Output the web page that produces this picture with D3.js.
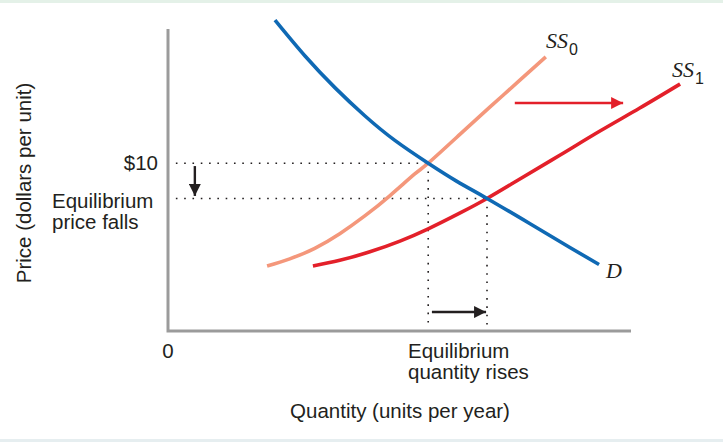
<!DOCTYPE html>
<html>
<head>
<meta charset="utf-8">
<script src="https://cdn.jsdelivr.net/npm/d3@7/dist/d3.min.js"></script>
<style>
  html, body { margin: 0; padding: 0; background: #ffffff; }
  svg { display: block; }
  text { font-family: "Liberation Sans", Arial, Helvetica, sans-serif; fill: #231f20; }
  .serif { font-family: "Liberation Serif", "Times New Roman", serif; font-style: italic; }
</style>
</head>
<body>
<svg id="chart" width="723" height="442"></svg>
<script>
// Demand curve D: [quantity, price]
const demand = [
  [23.1, 18.53], [29.6, 16.39], [36.1, 14.49], [42.5, 12.83], [49.0, 11.36],
  [56.2, 10.0], [62.4, 8.92], [68.9, 7.9], [78.2, 6.39], [86.8, 4.98], [93.1, 3.96]
];
// Original supply curve SS0
const supply0 = [
  [21.4, 3.87], [26.3, 4.30], [31.7, 4.93], [37.1, 5.80], [42.5, 6.86], [47.9, 8.06],
  [53.3, 9.36], [56.2, 10.0], [63.1, 11.73], [69.5, 13.34], [76.0, 14.95], [81.6, 16.34]
];
// Shifted supply curve SS1
const supply1 = [
  [31.3, 3.87], [37.1, 4.21], [43.6, 4.72], [50.1, 5.36], [56.2, 6.09], [63.1, 7.04],
  [68.9, 7.9], [76.0, 9.06], [84.7, 10.49], [93.3, 11.92], [101.9, 13.29], [110.6, 14.72]
];
// Equilibria: before and after the supply shift
const equilibria = [
  { q: 56.2, p: 10.0 },
  { q: 68.9, p: 7.9 }
];
const priceLabels = ["$10", "Equilibrium", "price falls"];
const quantityLabels = ["0", "Equilibrium", "quantity rises"];

const svg = d3.select("#chart");

const x = d3.scaleLinear().domain([0, 100]).range([168, 631]);
const y = d3.scaleLinear().domain([0, 18]).range([331, 29]);

// thin page bands
svg.append("rect").attr("x", 0).attr("y", 0).attr("width", 723).attr("height", 3).attr("fill", "#e4f1e8");
svg.append("rect").attr("x", 0).attr("y", 439).attr("width", 723).attr("height", 3).attr("fill", "#e6eef0");

// arrowheads
const defs = svg.append("defs");
function marker(id, color) {
  defs.append("marker")
    .attr("id", id)
    .attr("viewBox", "0 0 12 12")
    .attr("refX", 12).attr("refY", 6)
    .attr("markerWidth", 12).attr("markerHeight", 12)
    .attr("markerUnits", "userSpaceOnUse")
    .attr("orient", "auto")
    .append("path")
    .attr("d", "M0,0 L12,6 L0,12 Z")
    .attr("fill", color);
}
marker("headBlack", "#231f20");
marker("headRed", "#e3202a");

// dotted guide lines to the axes
const dotted = svg.append("g")
  .attr("stroke", "#231f20")
  .attr("stroke-width", 1.6)
  .attr("stroke-dasharray", "1.6 6.7")
  .attr("fill", "none");
equilibria.forEach(e => {
  dotted.append("line")
    .attr("x1", x(1.7)).attr("x2", x(e.q))
    .attr("y1", y(e.p)).attr("y2", y(e.p));
  dotted.append("line")
    .attr("x1", x(e.q)).attr("x2", x(e.q))
    .attr("y1", y(e.p)).attr("y2", y(0.1));
});

// axes
const axes = svg.append("g").attr("stroke", "#9b9b9b").attr("stroke-width", 3).attr("fill", "none");
axes.append("path")
  .attr("d", `M${x(0)},${y(18)} L${x(0)},${y(0)} L${x(100)},${y(0)}`);

const line = d3.line().x(d => x(d[0])).y(d => y(d[1])).curve(d3.curveNatural);

svg.append("path").datum(supply0)
  .attr("d", line).attr("fill", "none")
  .attr("stroke", "#f4977b").attr("stroke-width", 3.6);
svg.append("path").datum(supply1)
  .attr("d", line).attr("fill", "none")
  .attr("stroke", "#e3202a").attr("stroke-width", 3.6);
svg.append("path").datum(demand)
  .attr("d", line).attr("fill", "none")
  .attr("stroke", "#0f69b4").attr("stroke-width", 3.6);

// change arrows
svg.append("line")
  .attr("x1", x(5.8)).attr("x2", x(5.8))
  .attr("y1", y(9.83)).attr("y2", y(8.05))
  .attr("stroke", "#231f20").attr("stroke-width", 2.4)
  .attr("marker-end", "url(#headBlack)");
svg.append("line")
  .attr("x1", x(57.0)).attr("x2", x(68.7))
  .attr("y1", y(1.13)).attr("y2", y(1.13))
  .attr("stroke", "#231f20").attr("stroke-width", 2.4)
  .attr("marker-end", "url(#headBlack)");
svg.append("line")
  .attr("x1", x(74.9)).attr("x2", x(98.3))
  .attr("y1", y(13.59)).attr("y2", y(13.59))
  .attr("stroke", "#e3202a").attr("stroke-width", 2.4)
  .attr("marker-end", "url(#headRed)");

// price-side labels
const fs = 20.5;
svg.append("text").attr("x", 158).attr("y", y(equilibria[0].p) + 7)
  .attr("text-anchor", "end").attr("font-size", fs).text(priceLabels[0]);
svg.append("text").attr("x", 52).attr("y", 208)
  .attr("font-size", fs).text(priceLabels[1]);
svg.append("text").attr("x", 52).attr("y", 229)
  .attr("font-size", fs).text(priceLabels[2]);

// quantity-side labels
svg.append("text").attr("x", x(0)).attr("y", 358)
  .attr("text-anchor", "middle").attr("font-size", fs).text(quantityLabels[0]);
svg.append("text").attr("x", 408).attr("y", 358)
  .attr("font-size", fs).text(quantityLabels[1]);
svg.append("text").attr("x", 408).attr("y", 379)
  .attr("font-size", fs).text(quantityLabels[2]);

// axis titles
svg.append("text").attr("x", 400).attr("y", 418)
  .attr("text-anchor", "middle").attr("font-size", fs).text("Quantity (units per year)");
svg.append("text")
  .attr("transform", "translate(31,183) rotate(-90)")
  .attr("text-anchor", "middle").attr("font-size", fs).text("Price (dollars per unit)");

// curve names
function curveName(xp, yp, main, sub) {
  const t = svg.append("text").attr("x", xp).attr("y", yp);
  t.append("tspan").attr("class", "serif").attr("font-size", 22).text(main);
  if (sub) t.append("tspan").attr("font-size", 16).attr("dy", 7).attr("dx", 1).text(sub);
}
curveName(546, 48, "SS", "0");
curveName(672, 77, "SS", "1");
curveName(606, 278, "D", null);
</script>
</body>
</html>
